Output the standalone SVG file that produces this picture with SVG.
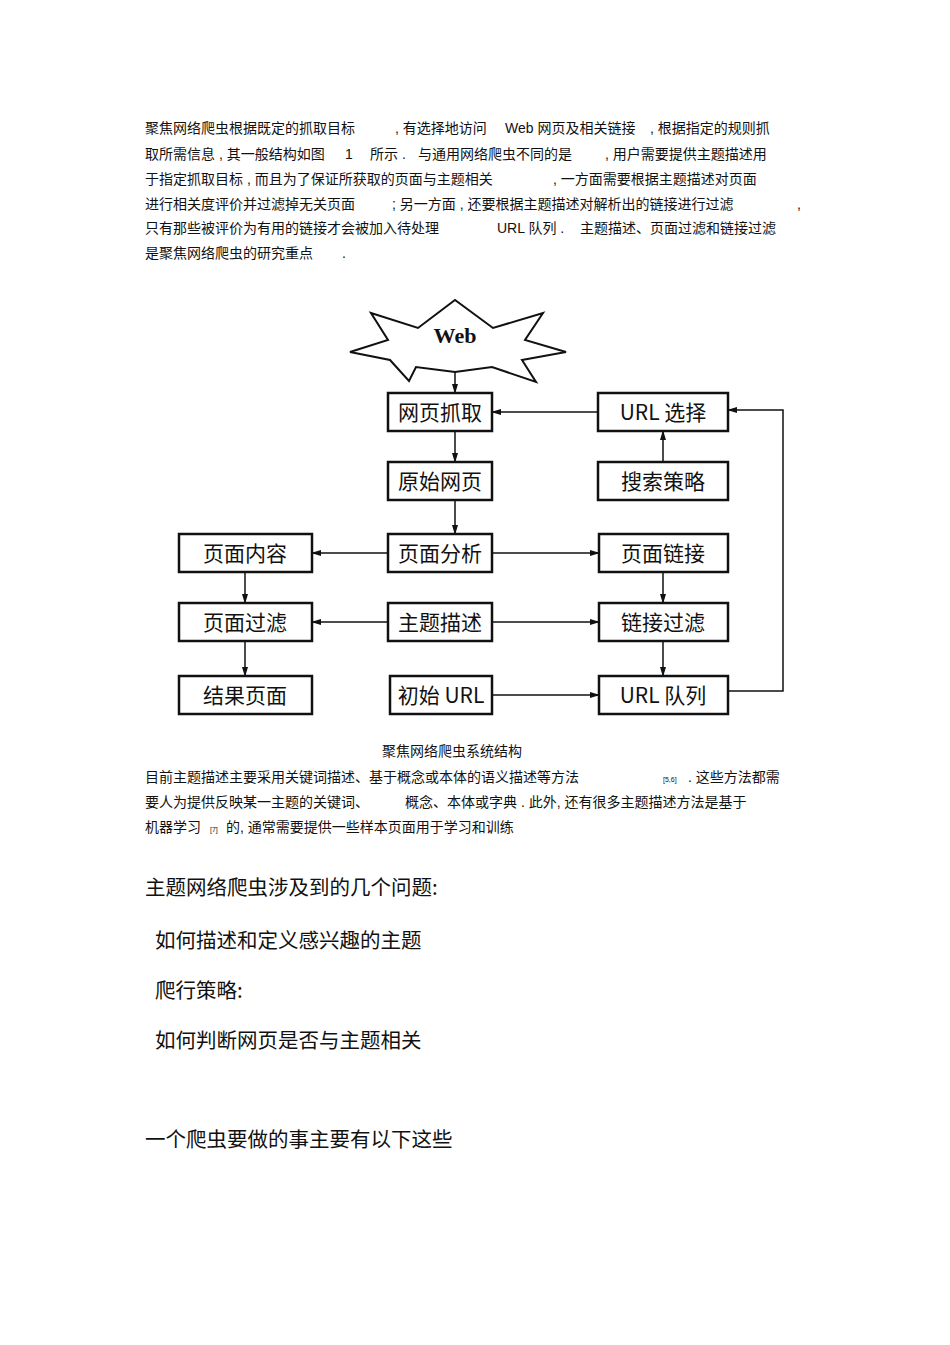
<svg xmlns="http://www.w3.org/2000/svg" width="950" height="1345" viewBox="0 0 950 1345">
<style>
.p{font-family:"Liberation Sans","Noto Sans CJK SC",sans-serif;font-size:14px;fill:#111}
.b rect{fill:#fff;stroke:#111;stroke-width:2.5}
.b text{font-family:"Noto Sans CJK SC",sans-serif;font-size:21px;text-anchor:middle;fill:#111}
.h{font-family:"Noto Sans CJK SC",sans-serif;font-size:20.5px;fill:#111}
.c line,.c polyline{stroke:#111;stroke-width:1.5;fill:none;marker-end:url(#a)}
</style>
<defs><marker id="a" markerWidth="10" markerHeight="6" refX="9" refY="3" orient="auto" markerUnits="userSpaceOnUse"><path d="M0,0L10,3L0,6z" fill="#111"/></marker></defs>
<rect width="950" height="1345" fill="#fff"/>
<text class="p" x="145" y="133">聚焦网络爬虫根据既定的抓取目标<tspan x="395">, 有选择地访问</tspan><tspan x="505">Web 网页及相关链接</tspan><tspan x="650">, 根据指定的规则抓</tspan></text>
<text class="p" x="145" y="159">取所需信息 , 其一般结构如图<tspan x="345">1</tspan><tspan x="370">所示 .</tspan><tspan x="418">与通用网络爬虫不同的是</tspan><tspan x="605">, 用户需要提供主题描述用</tspan></text>
<text class="p" x="145" y="184">于指定抓取目标 , 而且为了保证所获取的页面与主题相关<tspan x="553">, 一方面需要根据主题描述对页面</tspan></text>
<text class="p" x="145" y="209">进行相关度评价并过滤掉无关页面<tspan x="392">; 另一方面 , 还要根据主题描述对解析出的链接进行过滤</tspan><tspan x="797">,</tspan></text>
<text class="p" x="145" y="233">只有那些被评价为有用的链接才会被加入待处理<tspan x="497">URL 队列 .</tspan><tspan x="580">主题描述、页面过滤和链接过滤</tspan></text>
<text class="p" x="145" y="258">是聚焦网络爬虫的研究重点<tspan x="342">.</tspan></text>
<g id="web"><polygon points="371,313 418,328 455,300 493,328 543,313 525,340 566,352 522,360 536,382 492,367 455,372 416,367 409,381 390,360 350,352 388,340" fill="#fff" stroke="#111" stroke-width="2"/><text x="455" y="343" text-anchor="middle" font-family="Liberation Serif,serif" font-size="22" font-weight="bold" fill="#111">Web</text></g>
<g class="c">
<line x1="455" y1="372" x2="455" y2="393"/>
<line x1="598" y1="412" x2="492" y2="412"/>
<line x1="455" y1="431" x2="455" y2="462"/>
<line x1="663" y1="462" x2="663" y2="431"/>
<line x1="455" y1="500" x2="455" y2="534"/>
<line x1="388" y1="553" x2="312" y2="553"/>
<line x1="492" y1="553" x2="599" y2="553"/>
<line x1="245" y1="572" x2="245" y2="603"/>
<line x1="663" y1="572" x2="663" y2="603"/>
<line x1="388" y1="622" x2="312" y2="622"/>
<line x1="492" y1="622" x2="599" y2="622"/>
<line x1="245" y1="641" x2="245" y2="676"/>
<line x1="663" y1="641" x2="663" y2="676"/>
<line x1="492" y1="695" x2="599" y2="695"/>
<polyline points="728,691 783,691 783,410 728,410"/>
</g>
<g class="b" id="n1"><rect x="388" y="393" width="104" height="38"/><text x="440" y="420">网页抓取</text></g>
<g class="b" id="n2"><rect x="598" y="393" width="130" height="38"/><text x="663" y="420">URL 选择</text></g>
<g class="b" id="n3"><rect x="388" y="462" width="104" height="38"/><text x="440" y="489">原始网页</text></g>
<g class="b" id="n4"><rect x="598" y="462" width="130" height="38"/><text x="663" y="489">搜索策略</text></g>
<g class="b" id="n5"><rect x="179" y="534" width="133" height="38"/><text x="245" y="561">页面内容</text></g>
<g class="b" id="n6"><rect x="388" y="534" width="104" height="38"/><text x="440" y="561">页面分析</text></g>
<g class="b" id="n7"><rect x="599" y="534" width="129" height="38"/><text x="663" y="561">页面链接</text></g>
<g class="b" id="n8"><rect x="179" y="603" width="133" height="38"/><text x="245" y="630">页面过滤</text></g>
<g class="b" id="n9"><rect x="388" y="603" width="104" height="38"/><text x="440" y="630">主题描述</text></g>
<g class="b" id="n10"><rect x="599" y="603" width="129" height="38"/><text x="663" y="630">链接过滤</text></g>
<g class="b" id="n11"><rect x="179" y="676" width="133" height="38"/><text x="245" y="703">结果页面</text></g>
<g class="b" id="n12"><rect x="390" y="676" width="102" height="38"/><text x="441" y="703">初始 URL</text></g>
<g class="b" id="n13"><rect x="599" y="676" width="129" height="38"/><text x="663" y="703">URL 队列</text></g>
<text class="p" x="452" y="756" text-anchor="middle">聚焦网络爬虫系统结构</text>
<text class="p" x="145" y="782">目前主题描述主要采用关键词描述、基于概念或本体的语义描述等方法<tspan x="663" font-size="7">[5,6]</tspan><tspan x="688">. 这些方法都需</tspan></text>
<text class="p" x="145" y="807">要人为提供反映某一主题的关键词、<tspan x="405">概念、本体或字典 . 此外, 还有很多主题描述方法是基于</tspan></text>
<text class="p" x="145" y="832">机器学习<tspan x="210" font-size="7">[7]</tspan><tspan x="226">的, 通常需要提供一些样本页面用于学习和训练</tspan></text>
<text class="h" x="145" y="895">主题网络爬虫涉及到的几个问题:</text>
<text class="h" x="155" y="948">如何描述和定义感兴趣的主题</text>
<text class="h" x="155" y="998">爬行策略:</text>
<text class="h" x="155" y="1048">如何判断网页是否与主题相关</text>
<text class="h" x="145" y="1147">一个爬虫要做的事主要有以下这些</text>
</svg>
